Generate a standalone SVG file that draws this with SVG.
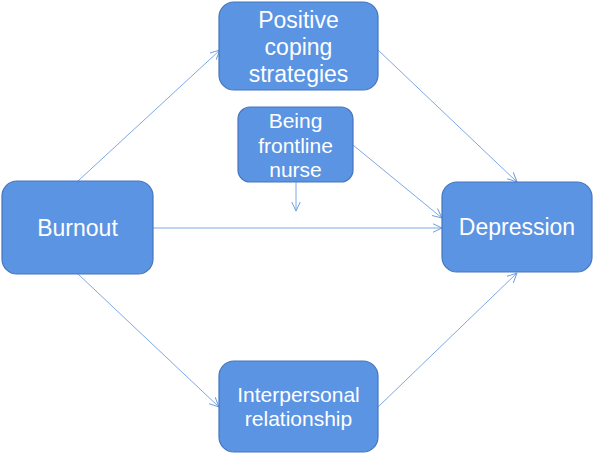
<svg xmlns="http://www.w3.org/2000/svg" width="594" height="455" viewBox="0 0 594 455">
<defs>
<marker id="ah" viewBox="0 0 10 10" refX="9.5" refY="5" markerWidth="10" markerHeight="10" markerUnits="userSpaceOnUse" orient="auto">
<path d="M0,0.5 L9.5,5 L0,9.5" fill="none" stroke="#6f9fe0" stroke-width="1"/>
</marker>
</defs>
<style>
.box{fill:#5b94e3;stroke:#4576be;stroke-width:1.2}
.t{fill:#ffffff;font-family:"Liberation Sans",Arial,sans-serif;font-size:23px;text-anchor:middle}
.s{font-size:21px}
.c line{stroke:#7ea8e3;stroke-width:1;fill:none;marker-end:url(#ah)}
</style>
<rect width="594" height="455" fill="#ffffff"/>
<g class="c" id="connectors">
<line x1="78" y1="181" x2="220" y2="50"/>
<line x1="378" y1="50" x2="517" y2="182"/>
<line x1="353" y1="145" x2="442" y2="218"/>
<line x1="296" y1="182" x2="296" y2="211"/>
<line x1="153" y1="228" x2="442" y2="228"/>
<line x1="78" y1="274" x2="219" y2="407"/>
<line x1="378" y1="407" x2="517" y2="273"/>
</g>
<g id="positive">
<rect class="box" x="219" y="2" width="159" height="88" rx="15"/>
<text class="t" x="298.5" y="28">Positive</text>
<text class="t" x="298.5" y="55">coping</text>
<text class="t" x="298.5" y="82">strategies</text>
</g>
<g id="frontline">
<rect class="box" x="238" y="107" width="115" height="75" rx="12"/>
<text class="t s" x="295.5" y="128">Being</text>
<text class="t s" x="295.5" y="153">frontline</text>
<text class="t s" x="295.5" y="177">nurse</text>
</g>
<g id="burnout">
<rect class="box" x="2" y="181" width="151" height="93" rx="15"/>
<text class="t" x="77.5" y="236">Burnout</text>
</g>
<g id="depression">
<rect class="box" x="442" y="182" width="150" height="90" rx="15"/>
<text class="t" x="517" y="235">Depression</text>
</g>
<g id="interpersonal">
<rect class="box" x="219" y="361" width="159" height="91" rx="15"/>
<text class="t s" x="298.5" y="402">Interpersonal</text>
<text class="t s" x="298.5" y="426">relationship</text>
</g>
</svg>
